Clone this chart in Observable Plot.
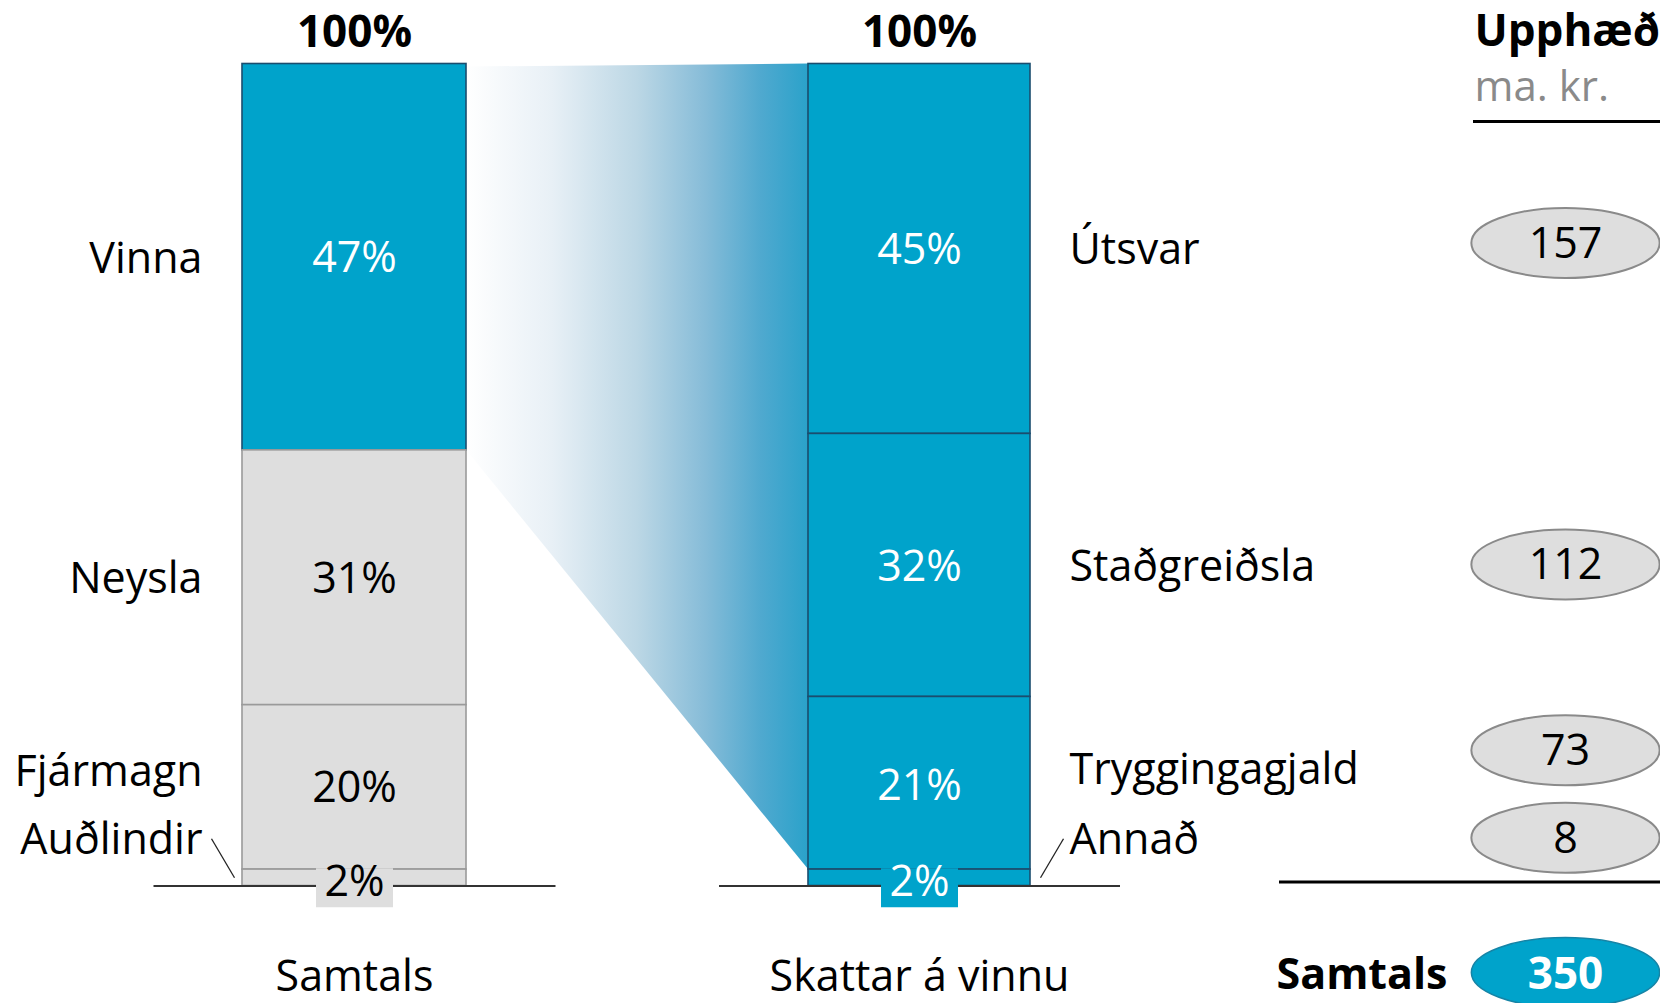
<!DOCTYPE html>
<html><head><meta charset="utf-8">
<script src="https://cdn.jsdelivr.net/npm/d3@7"></script>
<script src="https://cdn.jsdelivr.net/npm/@observablehq/plot@0.6"></script>
<style>html,body{margin:0;padding:0;overflow:hidden;background:#fff}</style>
</head><body><div id="chart"></div>
<script>
// ---------- DATA ----------
const sourceCategories = ["Vinna", "Neysla", "Fjármagn", "Auðlindir"];
const sourceShares = [47, 31, 20, 2];
const laborCategories = ["Útsvar", "Staðgreiðsla", "Tryggingagjald", "Annað"];
const laborShares = [45, 32, 21, 2];
const laborAmounts = [157, 112, 73, 8];
const totalAmount = 350;
const columnTitles = ["Samtals", "Skattar á vinnu"];
const columnTotals = ["100%", "100%"];
const amountHeader = "Upphæð";
const amountUnit = "ma. kr.";
const totalLabel = "Samtals";

// ---------- LAYOUT ----------
const W = 1660, H = 1003;
const yBase = 885.5, yTop = 63.5;
const pxPerPct = (yBase - yTop) / 100;
const colL = {x1: 242, x2: 466};
const colR = {x1: 808, x2: 1030};
const amountX = 1565;
const blue = "#00a3cb", grey = "#dedede";
const font = "'Open Sans', 'Noto Sans', sans-serif";
// pixel offsets of labels from segment centres (upwards negative)
const leftLabelOff = [1, 0, -16, -39];
const rightLabelOff = [0, 1, -14, -39];
const rightPctOff = [0, 1, 2, 3];
const leftPctOff = [0, 0, 0, 3];
const ellipseOff = [-6, -1, -33, -40];

function stack(cats, shares, col, labelOff, pctOff) {
  let top = d3.sum(shares);
  return cats.map((c, i) => {
    const y2 = top; top -= shares[i];
    const mid = (top + y2) / 2;
    return {
      cat: c, share: shares[i], y1: top, y2, mid,
      labelY: mid - labelOff[i] / pxPerPct,
      pctY: mid - pctOff[i] / pxPerPct,
      x1: col.x1, x2: col.x2, xc: (col.x1 + col.x2) / 2
    };
  });
}
const left = stack(sourceCategories, sourceShares, colL, leftLabelOff, leftPctOff);
const right = stack(laborCategories, laborShares, colR, rightLabelOff, rightPctOff);
right.forEach((d, i) => { d.amount = laborAmounts[i]; d.ellY = d.mid - ellipseOff[i] / pxPerPct; });

const smallL = left.filter(d => d.share < 5);
const smallR = right.filter(d => d.share < 5);

// funnel from "Vinna" segment to the right column
const vinna = left[0];
const funnel = [
  {x: colL.x2, lo: vinna.y1, hi: vinna.y2 - 3 / pxPerPct},
  {x: colR.x1, lo: right[right.length - 1].y2, hi: 100}
];

// ellipse symbol
const ellipse = {
  draw(ctx, size) {
    const ry = Math.sqrt(size / Math.PI), rx = ry * 2.69, k = 0.5523;
    ctx.moveTo(rx, 0);
    ctx.bezierCurveTo(rx, k * ry, k * rx, ry, 0, ry);
    ctx.bezierCurveTo(-k * rx, ry, -rx, k * ry, -rx, 0);
    ctx.bezierCurveTo(-rx, -k * ry, -k * rx, -ry, 0, -ry);
    ctx.bezierCurveTo(k * rx, -ry, rx, -k * ry, rx, 0);
    ctx.closePath();
  }
};
const box = {draw(ctx) { ctx.rect(-38.5, -19.5, 77, 39); }};

const defs = () => {
  const g = document.createElementNS("http://www.w3.org/2000/svg", "defs");
  g.innerHTML = `<linearGradient id="fade" x1="0" x2="1" y1="0" y2="0">
    <stop offset="0" stop-color="#ffffff"/>
    <stop offset="0.25" stop-color="#e8f0f6"/>
    <stop offset="0.5" stop-color="#bcd7e5"/>
    <stop offset="0.7" stop-color="#86bcd8"/>
    <stop offset="0.86" stop-color="#50a9cf"/>
    <stop offset="1" stop-color="#2aa2ca"/>
  </linearGradient>`;
  return g;
};

const fs = 43;
const base = {fontSize: fs, lineAnchor: "bottom", dy: 15};

const chart = Plot.plot({
  width: W, height: H,
  marginTop: 0, marginRight: 0, marginBottom: 0, marginLeft: 0,
  x: {type: "identity", axis: null},
  y: {domain: [0, 100], range: [yBase, yTop], axis: null},
  style: {fontFamily: font, background: "#fff", overflow: "hidden"},
  marks: [
    defs,
    Plot.areaY(funnel, {x: "x", y1: "lo", y2: "hi", fill: "url(#fade)", curve: "linear"}),
    Plot.rect(left, {x1: "x1", x2: "x2", y1: "y1", y2: "y2",
      fill: d => d.cat === "Vinna" ? blue : grey,
      stroke: d => d.cat === "Vinna" ? "#1b4d6e" : "#9a9a9a", strokeWidth: 1.6}),
    Plot.rect(right, {x1: "x1", x2: "x2", y1: "y1", y2: "y2", fill: blue, stroke: "#1b4d6e", strokeWidth: 1.6}),
    Plot.ruleY([0], {x1: 153.5, x2: 555.5, stroke: "#333", strokeWidth: 1.8}),
    Plot.ruleY([0], {x1: 719, x2: 1120, stroke: "#333", strokeWidth: 1.8}),
    Plot.dot(smallL, {x: "xc", y: "mid", dy: 10, r: 10, symbol: box, fill: grey, stroke: "none"}),
    Plot.dot(smallR, {x: "xc", y: "mid", dy: 10, r: 10, symbol: box, fill: blue, stroke: "none"}),
    // leader lines
    Plot.link(smallL, {x1: d => d.x1 - 31, y1: "labelY", x2: d => d.x1 - 8, y2: "mid", stroke: "#222", strokeWidth: 1.3}),
    Plot.link(smallR, {x1: d => d.x2 + 33, y1: "labelY", x2: d => d.x2 + 10, y2: "mid", stroke: "#222", strokeWidth: 1.3}),
    // percentages in bars
    Plot.text(left, {...base, x: "xc", y: "pctY", text: d => d.share + "%",
      fill: d => d.cat === "Vinna" ? "#fff" : "#000"}),
    Plot.text(right, {...base, x: "xc", y: "pctY", text: d => d.share + "%", fill: "#fff"}),
    // category labels
    Plot.text(left, {...base, x: colL.x1 - 40, y: "labelY", text: "cat", textAnchor: "end", fill: "#000"}),
    Plot.text(right, {...base, x: colR.x2 + 39, y: "labelY", text: "cat", textAnchor: "start", fill: "#000"}),
    // 100% headers
    Plot.text(columnTotals, {x: (d, i) => i === 0 ? (colL.x1 + colL.x2) / 2 : (colR.x1 + colR.x2) / 2,
      text: d => d, frameAnchor: "top", lineAnchor: "bottom", dy: 46, fontSize: 44, fontWeight: "bold", fill: "#000"}),
    // column titles
    Plot.text(columnTitles, {x: (d, i) => i === 0 ? (colL.x1 + colL.x2) / 2 : (colR.x1 + colR.x2) / 2,
      text: d => d, frameAnchor: "bottom", lineAnchor: "bottom", dy: -13, fontSize: fs, fill: "#000"}),
    // amount header
    Plot.text([amountHeader], {x: 1474, text: d => d, frameAnchor: "top", lineAnchor: "bottom", dy: 45,
      textAnchor: "start", fontSize: 44, fontWeight: "bold", fill: "#000"}),
    Plot.text([amountUnit], {x: 1474, text: d => d, frameAnchor: "top", lineAnchor: "bottom", dy: 100,
      textAnchor: "start", fontSize: 42, fill: "#8a8a8a"}),
    Plot.ruleY([100], {x1: 1473, x2: 1660, dy: 57.5, stroke: "#000", strokeWidth: 3}),
    // amounts
    Plot.dot(right, {x: amountX, y: "ellY", r: 35, symbol: ellipse, fill: grey, stroke: "#8a8a8a", strokeWidth: 2}),
    Plot.text(right, {...base, x: amountX, y: "ellY", text: "amount", fill: "#000"}),
    Plot.ruleY([0], {x1: 1279, x2: 1660, dy: -4, stroke: "#000", strokeWidth: 3}),
    // total
    Plot.dot([totalAmount], {x: amountX, frameAnchor: "bottom", dy: -31, r: 35, symbol: ellipse, fill: blue, stroke: "#1584a6", strokeWidth: 1.5}),
    Plot.text([totalAmount], {x: amountX, text: d => String(d), frameAnchor: "bottom", lineAnchor: "bottom", dy: -15,
      fontSize: 44, fontWeight: "bold", fill: "#fff"}),
    Plot.text([totalLabel], {x: 1447, text: d => d, frameAnchor: "bottom", lineAnchor: "bottom", dy: -15,
      textAnchor: "end", fontSize: 43, fontWeight: "bold", fill: "#000"})
  ]
});
document.getElementById("chart").appendChild(chart);
</script>
</body></html>
